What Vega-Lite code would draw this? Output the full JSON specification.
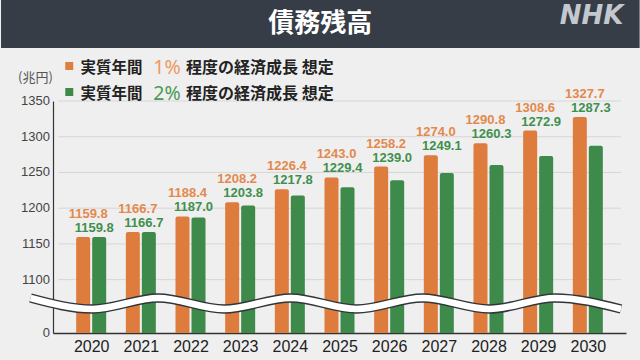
{
  "$schema": "https://vega.github.io/schema/vega-lite/v6.json",
  "background": "#efefef",
  "autosize": {"type": "none"},
  "padding": {"left": 53, "top": 101, "right": 14, "bottom": 27},
  "width": 573,
  "height": 232,
  "config": {
    "view": {"stroke": null},
    "font": "Noto Sans CJK JP",
    "axisY": {"grid": false, "labels": false, "ticks": false, "title": null, "domainColor": "#333333", "domainWidth": 1.2},
    "axisX": {"grid": false, "ticks": false, "title": null, "labelAngle": 0, "labelFontSize": 16, "labelColor": "#222222", "labelFont": "Liberation Sans", "labelPadding": 5, "labelOverlap": false, "labelFlush": false, "domainColor": "#333333", "domainWidth": 1.5}
  },
  "datasets": {
    "debt": [
      {"year": 2020, "scenario": "1%", "value": 1159.8},
      {"year": 2020, "scenario": "2%", "value": 1159.8},
      {"year": 2021, "scenario": "1%", "value": 1166.7},
      {"year": 2021, "scenario": "2%", "value": 1166.7},
      {"year": 2022, "scenario": "1%", "value": 1188.4},
      {"year": 2022, "scenario": "2%", "value": 1187.0},
      {"year": 2023, "scenario": "1%", "value": 1208.2},
      {"year": 2023, "scenario": "2%", "value": 1203.8},
      {"year": 2024, "scenario": "1%", "value": 1226.4},
      {"year": 2024, "scenario": "2%", "value": 1217.8},
      {"year": 2025, "scenario": "1%", "value": 1243.0},
      {"year": 2025, "scenario": "2%", "value": 1229.4},
      {"year": 2026, "scenario": "1%", "value": 1258.2},
      {"year": 2026, "scenario": "2%", "value": 1239.0},
      {"year": 2027, "scenario": "1%", "value": 1274.0},
      {"year": 2027, "scenario": "2%", "value": 1249.1},
      {"year": 2028, "scenario": "1%", "value": 1290.8},
      {"year": 2028, "scenario": "2%", "value": 1260.3},
      {"year": 2029, "scenario": "1%", "value": 1308.6},
      {"year": 2029, "scenario": "2%", "value": 1272.9},
      {"year": 2030, "scenario": "1%", "value": 1327.7},
      {"year": 2030, "scenario": "2%", "value": 1287.3}
    ],
    "ticks": [
      {"tick": 1025.3, "label": "0"},
      {"tick": 1100, "label": "1100"},
      {"tick": 1150, "label": "1150"},
      {"tick": 1200, "label": "1200"},
      {"tick": 1250, "label": "1250"},
      {"tick": 1300, "label": "1300"},
      {"tick": 1350, "label": "1350"}
    ],
    "wave": [
      {"wx": 2018.778, "wy": 1074.3},
      {"wx": 2020.024, "wy": 1058.9},
      {"wx": 2021.35, "wy": 1074.3},
      {"wx": 2022.675, "wy": 1058.9},
      {"wx": 2024.02, "wy": 1074.3},
      {"wx": 2025.346, "wy": 1058.9},
      {"wx": 2026.671, "wy": 1074.3},
      {"wx": 2028.016, "wy": 1058.9},
      {"wx": 2029.342, "wy": 1074.3},
      {"wx": 2030.668, "wy": 1058.9}
    ]
  },
  "data": {"name": "debt"},
  "layer": [
    {
      "data": {"name": "ticks"},
      "transform": [{"filter": "datum.tick > 1050"}],
      "mark": {"type": "rule", "color": "#d6d6d6", "strokeWidth": 1},
      "encoding": {
        "x": {"datum": 2019.332, "type": "quantitative"},
        "x2": {"datum": 2030.668},
        "y": {"field": "tick", "type": "quantitative"}
      }
    },
    {
      "transform": [{"filter": "datum.scenario === '1%'"}],
      "mark": {"type": "bar", "width": 14, "xOffset": -8, "cornerRadiusTopLeft": 2, "cornerRadiusTopRight": 2},
      "encoding": {
        "x": {
          "field": "year",
          "type": "quantitative",
          "scale": {"domain": [2019.332, 2030.668], "nice": false, "zero": false},
          "axis": {
            "values": [2020, 2021, 2022, 2023, 2024, 2025, 2026, 2027, 2028, 2029, 2030],
            "format": "d"
          }
        },
        "y": {
          "field": "value",
          "type": "quantitative",
          "scale": {"domain": [1025.3, 1350], "zero": false, "nice": false}
        },
        "y2": {"datum": 1025.3},
        "color": {
          "field": "scenario",
          "type": "nominal",
          "scale": {"domain": ["1%", "2%"], "range": ["#dd7c3c", "#3e8a4b"]},
          "legend": null
        }
      }
    },
    {
      "transform": [{"filter": "datum.scenario === '2%'"}],
      "mark": {"type": "bar", "width": 14, "xOffset": 8, "cornerRadiusTopLeft": 2, "cornerRadiusTopRight": 2},
      "encoding": {
        "x": {"field": "year", "type": "quantitative"},
        "y": {"field": "value", "type": "quantitative"},
        "y2": {"datum": 1025.3},
        "color": {"field": "scenario", "type": "nominal", "legend": null}
      }
    },
    {
      "transform": [
        {"joinaggregate": [{"op": "max", "field": "value", "as": "top"}], "groupby": ["year"]},
        {"filter": "datum.scenario === '1%'"}
      ],
      "mark": {"type": "text", "dy": -23, "dx": -3, "fontWeight": "bold", "fontSize": 13, "font": "Liberation Sans", "baseline": "middle", "color": "#e3894d"},
      "encoding": {
        "x": {"field": "year", "type": "quantitative"},
        "y": {"field": "top", "type": "quantitative"},
        "text": {"field": "value", "type": "quantitative", "format": ".1f"}
      }
    },
    {
      "transform": [
        {"joinaggregate": [{"op": "max", "field": "value", "as": "top"}], "groupby": ["year"]},
        {"filter": "datum.scenario === '2%'"}
      ],
      "mark": {"type": "text", "dy": -9, "dx": 3, "fontWeight": "bold", "fontSize": 13, "font": "Liberation Sans", "baseline": "middle", "color": "#3f8f4e"},
      "encoding": {
        "x": {"field": "year", "type": "quantitative"},
        "y": {"field": "top", "type": "quantitative"},
        "text": {"field": "value", "type": "quantitative", "format": ".1f"}
      }
    },
    {
      "data": {"name": "wave"},
      "mark": {"type": "line", "interpolate": "monotone", "color": "#30353a", "strokeWidth": 9.5},
      "encoding": {
        "x": {"field": "wx", "type": "quantitative"},
        "y": {"field": "wy", "type": "quantitative"}
      }
    },
    {
      "data": {"name": "wave"},
      "mark": {"type": "line", "interpolate": "monotone", "color": "#ffffff", "strokeWidth": 6.5},
      "encoding": {
        "x": {"field": "wx", "type": "quantitative"},
        "y": {"field": "wy", "type": "quantitative"}
      }
    },
    {
      "data": {"name": "ticks"},
      "mark": {"type": "text", "align": "right", "baseline": "middle", "dx": -8, "fontSize": 13, "font": "Liberation Sans", "color": "#444444"},
      "encoding": {
        "x": {"datum": 2019.332, "type": "quantitative"},
        "y": {"field": "tick", "type": "quantitative"},
        "text": {"field": "label"}
      }
    },
    {
      "data": {"values": [{"name": "header"}]},
      "mark": {"type": "rect", "color": "#363d47"},
      "encoding": {
        "x": {"datum": 2018.185, "type": "quantitative"},
        "x2": {"datum": 2031.043},
        "y": {"datum": 1498.4, "type": "quantitative"},
        "y2": {"datum": 1424.2}
      }
    },
    {
      "data": {"values": [{"title": "債務残高"}]},
      "mark": {"type": "text", "fontSize": 26, "fontWeight": "bold", "color": "#ffffff", "align": "center", "baseline": "middle"},
      "encoding": {
        "x": {"datum": 2024.614, "type": "quantitative"},
        "y": {"datum": 1457.8, "type": "quantitative"},
        "text": {"field": "title"}
      }
    },
    {
      "data": {"values": [{"logo": "NHK"}]},
      "mark": {"type": "text", "fontSize": 26, "fontWeight": "bold", "fontStyle": "italic", "color": "#c3c8cf", "font": "DejaVu Sans", "align": "center", "baseline": "middle"},
      "encoding": {
        "x": {"datum": 2030.074, "type": "quantitative"},
        "y": {"datum": 1469.0, "type": "quantitative"},
        "text": {"field": "logo"}
      }
    },
    {
      "data": {"values": [{"scenario": "1%"}]},
      "mark": {"type": "point", "shape": "square", "filled": true, "opacity": 1, "size": 64, "color": "#e07d43"},
      "encoding": {"x": {"datum": 2019.559, "type": "quantitative"}, "y": {"datum": 1399.0, "type": "quantitative"}}
    },
    {
      "data": {"values": [{"scenario": "2%"}]},
      "mark": {"type": "point", "shape": "square", "filled": true, "opacity": 1, "size": 64, "color": "#3d8a47"},
      "encoding": {"x": {"datum": 2019.559, "type": "quantitative"}, "y": {"datum": 1362.6, "type": "quantitative"}}
    },
    {
      "data": {"values": [{"label": "実質年間"}]},
      "mark": {"type": "text", "align": "left", "baseline": "middle", "fontSize": 15.5, "fontWeight": "bold", "color": "#222222"},
      "encoding": {"x": {"datum": 2019.787, "type": "quantitative"}, "y": {"datum": 1396.6, "type": "quantitative"}, "text": {"field": "label"}}
    },
    {
      "data": {"values": [{"label": "実質年間"}]},
      "mark": {"type": "text", "align": "left", "baseline": "middle", "fontSize": 15.5, "fontWeight": "bold", "color": "#222222"},
      "encoding": {"x": {"datum": 2019.787, "type": "quantitative"}, "y": {"datum": 1359.4, "type": "quantitative"}, "text": {"field": "label"}}
    },
    {
      "data": {"values": [{"label": "1%"}]},
      "mark": {"type": "text", "align": "left", "baseline": "middle", "fontSize": 19.5, "fontWeight": "normal", "color": "#ec9a63", "font": "Noto Sans"},
      "encoding": {"x": {"datum": 2021.251, "type": "quantitative"}, "y": {"datum": 1396.6, "type": "quantitative"}, "text": {"field": "label"}}
    },
    {
      "data": {"values": [{"label": "2%"}]},
      "mark": {"type": "text", "align": "left", "baseline": "middle", "fontSize": 19.5, "fontWeight": "normal", "color": "#4a9a58", "font": "Noto Sans"},
      "encoding": {"x": {"datum": 2021.251, "type": "quantitative"}, "y": {"datum": 1359.4, "type": "quantitative"}, "text": {"field": "label"}}
    },
    {
      "data": {"values": [{"label": "程度の経済成長 想定"}]},
      "mark": {"type": "text", "align": "left", "baseline": "middle", "fontSize": 16, "fontWeight": "bold", "color": "#222222"},
      "encoding": {"x": {"datum": 2021.91, "type": "quantitative"}, "y": {"datum": 1396.6, "type": "quantitative"}, "text": {"field": "label"}}
    },
    {
      "data": {"values": [{"label": "程度の経済成長 想定"}]},
      "mark": {"type": "text", "align": "left", "baseline": "middle", "fontSize": 16, "fontWeight": "bold", "color": "#222222"},
      "encoding": {"x": {"datum": 2021.91, "type": "quantitative"}, "y": {"datum": 1359.4, "type": "quantitative"}, "text": {"field": "label"}}
    },
    {
      "data": {"values": [{"unit": "(兆円)"}]},
      "mark": {"type": "text", "align": "center", "baseline": "middle", "fontSize": 13, "fontWeight": "normal", "color": "#555555"},
      "encoding": {"x": {"datum": 2018.877, "type": "quantitative"}, "y": {"datum": 1382.2, "type": "quantitative"}, "text": {"field": "unit"}}
    }
  ]
}
